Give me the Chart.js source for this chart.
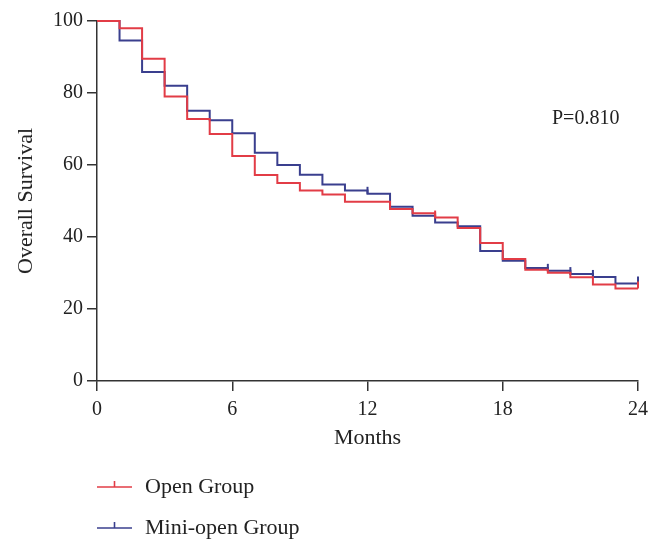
<!DOCTYPE html>
<html>
<head>
<meta charset="utf-8">
<script src="https://cdn.jsdelivr.net/npm/chart.js@4.4.1/dist/chart.umd.min.js"></script>
<style>
  html, body { margin: 0; padding: 0; background: #fff; }
  #wrap { position: relative; width: 661px; height: 553px; font-family: "Liberation Serif", serif; color: #222; }
  #km { position: absolute; left: 0; top: 0; }
  .ytitle { position: absolute; left: 25px; top: 201px; transform: translate(-50%, -50%) rotate(-90deg); font-size: 22px; white-space: nowrap; }
  .pval { position: absolute; left: 552px; top: 106px; font-size: 20px; }
  .legend { position: absolute; left: 97px; top: 465px; font-size: 22px; }
  .legend .row { display: flex; align-items: center; height: 41px; }
  .legend .row svg { margin-right: 13px; }
</style>
</head>
<body>
<div id="wrap">
  <canvas id="km" width="661" height="553"></canvas>
  <div class="ytitle">Overall Survival</div>
  <div class="pval">P=0.810</div>
  <div class="legend" id="legend"></div>
</div>
<script>
// Kaplan-Meier step curves
const months = [0, 1, 2, 3, 4, 5, 6, 7, 8, 9, 10, 11, 12, 13, 14, 15, 16, 17, 18, 19, 20, 21, 22, 23, 24];
const openSurvival = [100, 98, 89.5, 79, 72.8, 68.6, 62.5, 57.2, 55, 52.9, 51.8, 49.8, 49.8, 47.8, 46.6, 45.4, 42.5, 38.3, 33.9, 30.9, 30.1, 28.8, 26.8, 25.7, 25.7];
const miniSurvival = [100, 94.6, 85.8, 82, 75.1, 72.4, 68.8, 63.4, 60, 57.3, 54.6, 52.9, 52, 48.4, 45.9, 44, 43, 36.1, 33.4, 31.4, 30.6, 29.7, 28.9, 27.1, 27.1];
const openCensored = [15, 24];
const miniCensored = [12, 20, 21, 22, 24];
const xTicks = [0, 6, 12, 18, 24];
const yTicks = [0, 20, 40, 60, 80, 100];

const groups = [
  { label: 'Open Group', color: '#e23c46', values: openSurvival, censored: openCensored },
  { label: 'Mini-open Group', color: '#3a3f8e', values: miniSurvival, censored: miniCensored },
];

const axisColor = '#333';
const datasets = [];
groups.forEach(g => {
  datasets.push({
    label: g.label,
    data: months.map((m, i) => ({ x: m, y: g.values[i] })),
    borderColor: g.color,
    borderWidth: 2,
    stepped: true,
    pointRadius: 0,
    fill: false,
    clip: 6,
  });
  // censor marks: short upward dash at the censored month
  datasets.push({
    label: g.label + ' censored',
    data: g.censored.map(m => ({ x: m, y: g.values[months.indexOf(m)] })),
    showLine: false,
    pointStyle: 'dash',
    rotation: -90,
    pointRadius: 7,
    pointBorderWidth: 2,
    pointBorderColor: g.color,
    pointBackgroundColor: g.color,
    clip: 10,
  });
});

new Chart(document.getElementById('km'), {
  type: 'line',
  data: { datasets },
  options: {
    responsive: false,
    animation: false,
    layout: { padding: { left: 0, top: 21, right: 23, bottom: 102 } },
    plugins: { legend: { display: false }, tooltip: { enabled: false } },
    scales: {
      x: {
        type: 'linear',
        min: 0,
        max: 24,
        afterBuildTicks: s => { s.ticks = xTicks.map(v => ({ value: v })); },
        afterFit: s => { s.height = 70; },
        ticks: { color: '#222', padding: 7, font: { family: 'Liberation Serif', size: 20 } },
        grid: { drawOnChartArea: false, drawTicks: true, tickLength: 10, color: axisColor, lineWidth: 1.5 },
        border: { color: axisColor, width: 1.5 },
        title: { display: true, text: 'Months', color: '#222', padding: 0, font: { family: 'Liberation Serif', size: 22 } },
      },
      y: {
        min: 0,
        max: 100,
        afterBuildTicks: s => { s.ticks = yTicks.map(v => ({ value: v })); },
        afterFit: s => { s.width = 97; },
        ticks: { color: '#222', padding: 4, font: { family: 'Liberation Serif', size: 20 } },
        grid: { drawOnChartArea: false, drawTicks: true, tickLength: 10, color: axisColor, lineWidth: 1.5 },
        border: { color: axisColor, width: 1.5 },
      },
    },
  },
});

// legend: line sample with a censor tick, stacked vertically
const legendEl = document.getElementById('legend');
groups.forEach(g => {
  const row = document.createElement('div');
  row.className = 'row';
  row.innerHTML =
    '<svg width="35" height="14"><line x1="0" y1="8" x2="35" y2="8" stroke="' + g.color + '" stroke-width="1.6"/>' +
    '<line x1="17.5" y1="2" x2="17.5" y2="8" stroke="' + g.color + '" stroke-width="1.6"/></svg>' +
    '<span>' + g.label + '</span>';
  legendEl.appendChild(row);
});
</script>
</body>
</html>
